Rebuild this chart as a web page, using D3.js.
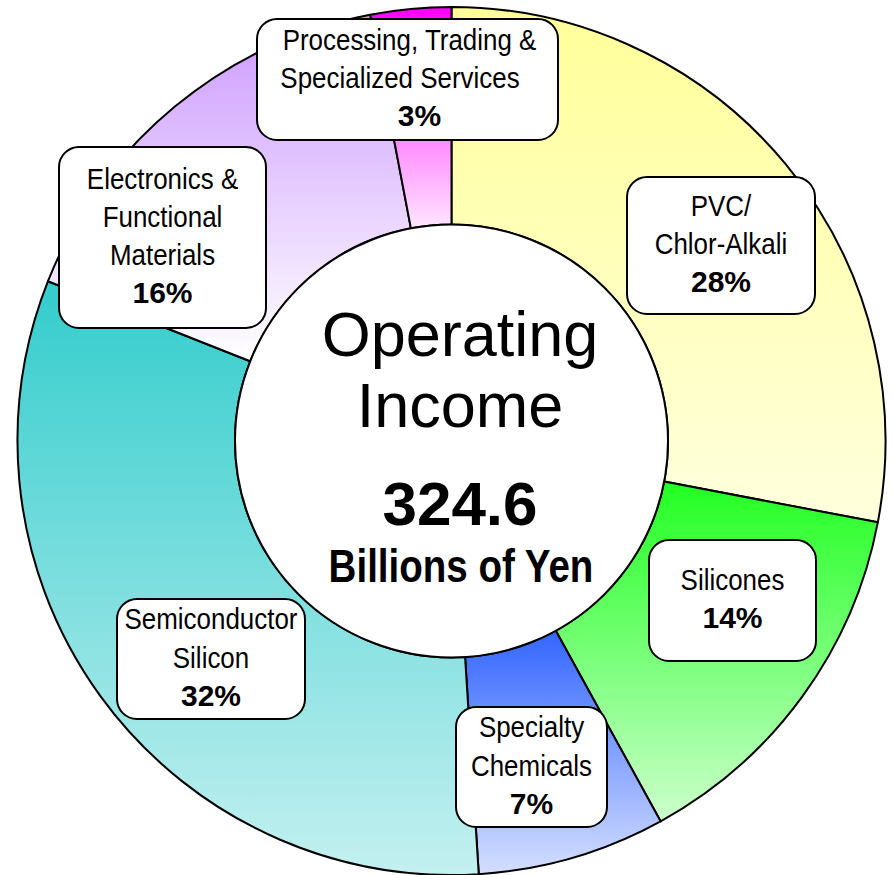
<!DOCTYPE html>
<html>
<head>
<meta charset="utf-8">
<script src="https://cdn.jsdelivr.net/npm/d3@7"></script>
<style>
  html, body { margin: 0; padding: 0; background: #fff; }
  svg { display: block; }
  text { font-family: "Liberation Sans", Arial, sans-serif; fill: #000; }
</style>
</head>
<body>
<script>
// ---- data ----
const categories = ["PVC/Chlor-Alkali", "Silicones", "Specialty Chemicals", "Semiconductor Silicon", "Electronics & Functional Materials", "Processing, Trading & Specialized Services"];
const shares = [28, 14, 7, 32, 16, 3];
const labelLines = [
  ["PVC/", "Chlor-Alkali"],
  ["Silicones"],
  ["Specialty", "Chemicals"],
  ["Semiconductor", "Silicon"],
  ["Electronics &", "Functional", "Materials"],
  ["Processing, Trading &", "Specialized Services"]
];
const centerTitle = ["Operating", "Income"];
const totalValue = "324.6";
const totalUnit = "Billions of Yen";

// ---- style / layout ----
const W = 893, H = 875;
const cx = 451.5, cy = 441, R = 434, r = 216.5;
const gradTop = ["#ffff99", "#22ff22", "#3366ff", "#33cccc", "#cc99ff", "#ff00ff"];
const gradBot = ["#ffffdd", "#ccffcc", "#d4deff", "#c4f0f0", "#ffffff", "#ffe6ff"];
const boxes = [
  {x: 627, y: 177, w: 188, h: 137},
  {x: 649, y: 540, w: 167, h: 121},
  {x: 456, y: 707, w: 151, h: 120},
  {x: 117, y: 599, w: 188, h: 120},
  {x: 59,  y: 147, w: 207, h: 181},
  {x: 257, y: 19,  w: 301, h: 121}
];
const lineDx = [null, null, null, null, null, [2, -7.5, 12]];
const lineGap = 38.2, fs = 30, squeeze = 0.865;

const svg = d3.select("body").append("svg").attr("width", W).attr("height", H);
const defs = svg.append("defs");

shares.forEach((v, i) => {
  const g = defs.append("linearGradient").attr("id", "g" + i)
    .attr("x1", 0).attr("y1", 0).attr("x2", 0).attr("y2", 1);
  g.append("stop").attr("offset", 0).attr("stop-color", gradTop[i]);
  g.append("stop").attr("offset", 1).attr("stop-color", gradBot[i]);
});

const pie = d3.pie().sort(null).value(d => d).startAngle(0).endAngle(2 * Math.PI);
const arc = d3.arc().innerRadius(r).outerRadius(R);
const arcs = pie(shares);

const chart = svg.append("g").attr("transform", `translate(${cx},${cy})`);
chart.selectAll("path.slice").data(arcs).join("path")
  .attr("class", "slice")
  .attr("d", arc)
  .attr("fill", (d, i) => `url(#g${i})`)
  .attr("stroke", "#000").attr("stroke-width", 2).attr("stroke-linejoin", "round");

chart.append("circle").attr("r", r).attr("fill", "#fff").attr("stroke", "#000").attr("stroke-width", 2);

// center text
const ctr = svg.append("g");
const ctrX = 460;
[[centerTitle[0], 356], [centerTitle[1], 427]].forEach(([t, y]) => {
  ctr.append("text").attr("x", ctrX).attr("y", y).attr("text-anchor", "middle")
    .attr("font-size", 63).text(t);
});
ctr.append("text").attr("x", ctrX).attr("y", 525).attr("text-anchor", "middle")
  .attr("font-size", 62).attr("font-weight", "bold").text(totalValue);
ctr.append("text").attr("transform", `translate(${ctrX + 1},582) scale(0.838,1)`)
  .attr("text-anchor", "middle").attr("font-size", 46).attr("font-weight", "bold").text(totalUnit);

// labels
const lg = svg.append("g");
arcs.forEach((a, i) => {
  const b = boxes[i];
  lg.append("rect").attr("x", b.x).attr("y", b.y).attr("width", b.w).attr("height", b.h)
    .attr("rx", 20).attr("ry", 20).attr("fill", "#fff").attr("stroke", "#000").attr("stroke-width", 2);
  const lines = labelLines[i].concat([Math.round(a.data) + "%"]);
  const n = lines.length;
  const bx = b.x + b.w / 2, bcy = b.y + b.h / 2;
  lines.forEach((t, k) => {
    const y = bcy - (n - 1) / 2 * lineGap + 8.5 + k * lineGap;
    const dx = lineDx[i] ? lineDx[i][k] : 0;
    const bold = k === n - 1;
    lg.append("text")
      .attr("transform", `translate(${bx + dx},${y}) scale(${bold ? 1 : squeeze},1)`)
      .attr("text-anchor", "middle")
      .attr("font-size", fs)
      .attr("font-weight", bold ? "bold" : "normal")
      .text(t);
  });
});
</script>
</body>
</html>
